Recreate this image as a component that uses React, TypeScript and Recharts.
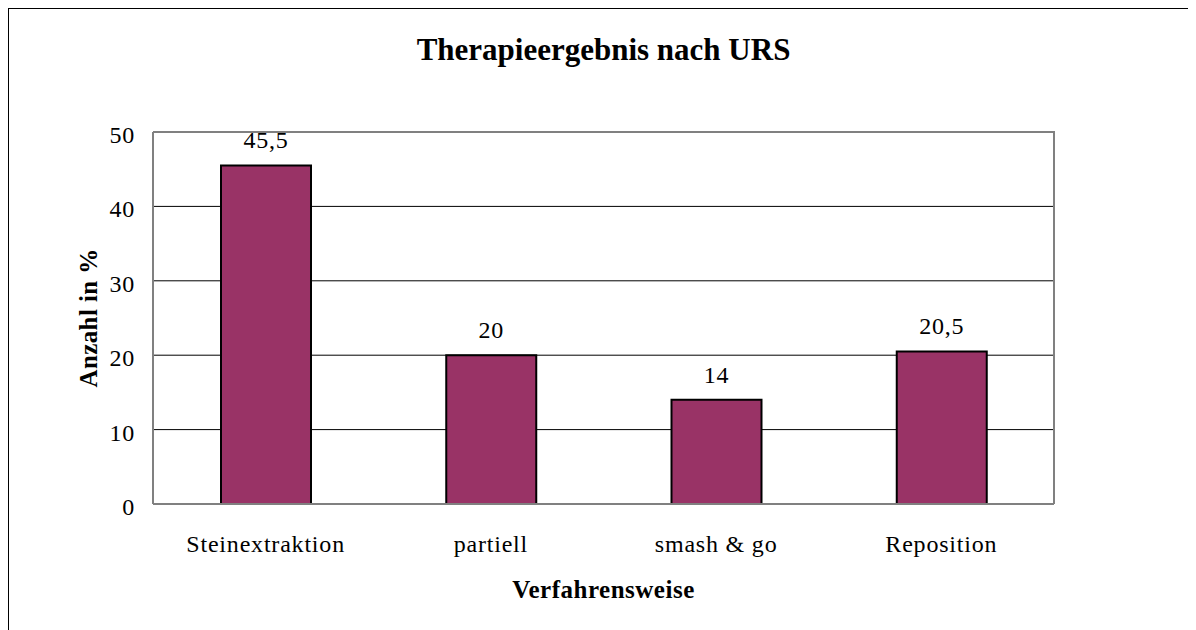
import {
  BarChart,
  Bar,
  XAxis,
  YAxis,
  CartesianGrid,
  LabelList,
  Customized,
} from "recharts";

// Therapieergebnis nach URS (Angaben in %)
const categories = ["Steinextraktion", "partiell", "smash & go", "Reposition"];
const values = [45.5, 20, 14, 20.5];
const yTicks = [0, 10, 20, 30, 40, 50];
const gridValues = [10, 20, 30, 40];

const FONT = '"Liberation Serif", "Times New Roman", serif';
const BAR_COLOR = "#993366";
const FRAME_GRAY = "#808080";

const data = categories.map((name, i) => ({ name, value: values[i] }));

const W = 1179;
const H = 640;
const PLOT = { left: 144, right: 1045, top: 123, bottom: 495 };
const CX = (PLOT.left + PLOT.right) / 2;

// title, axis titles and the grey top/right plot border
function Decorations() {
  const cy = (PLOT.top + PLOT.bottom) / 2;
  const yx = 79;
  return (
    <g fontFamily={FONT} fill="#000">
      <polyline
        points={`${PLOT.left},${PLOT.top} ${PLOT.right},${PLOT.top} ${PLOT.right},${PLOT.bottom}`}
        fill="none"
        stroke={FRAME_GRAY}
        strokeWidth={2}
      />
      <text x={CX} y={51} textAnchor="middle" fontWeight="bold" fontSize={31}>
        Therapieergebnis nach URS
      </text>
      <text
        x={CX}
        y={589}
        textAnchor="middle"
        fontWeight="bold"
        fontSize={25}
        letterSpacing={0.5}
      >
        Verfahrensweise
      </text>
      <text
        x={yx}
        y={cy}
        transform={`rotate(-90, ${yx}, ${cy})`}
        textAnchor="middle"
        dominantBaseline="central"
        fontWeight="bold"
        fontSize={25}
        letterSpacing={0.4}
      >
        Anzahl in %
      </text>
    </g>
  );
}

function XTick({ x, y, payload }: any) {
  return (
    <text
      x={x}
      y={y + 17}
      textAnchor="middle"
      fontFamily={FONT}
      fontSize={24}
      letterSpacing={0.8}
      fill="#000"
    >
      {payload.value}
    </text>
  );
}

function YTick({ x, y, payload }: any) {
  return (
    <text
      x={x}
      y={y + 3}
      textAnchor="end"
      dominantBaseline="central"
      fontFamily={FONT}
      fontSize={24}
      letterSpacing={0.8}
      fill="#000"
    >
      {payload.value}
    </text>
  );
}

function ValueLabel({ x, y, width, value }: any) {
  return (
    <text
      x={x + width / 2}
      y={y - 17}
      textAnchor="middle"
      fontFamily={FONT}
      fontSize={24}
      letterSpacing={0.8}
      fill="#000"
    >
      {String(value).replace(".", ",")}
    </text>
  );
}

export default function App() {
  return (
    <div
      style={{
        width: W,
        height: H,
        border: "1px solid #000",
        background: "#fff",
        fontFamily: FONT,
      }}
    >
      <BarChart
        width={W}
        height={H}
        data={data}
        margin={{ top: PLOT.top, right: W - PLOT.right, bottom: 0, left: 0 }}
      >
        <CartesianGrid
          horizontal
          vertical={false}
          horizontalValues={gridValues}
          stroke="#000"
          strokeWidth={1}
        />
        <XAxis
          dataKey="name"
          height={H - PLOT.bottom}
          tickSize={0}
          tickMargin={31}
          tickLine={false}
          axisLine={{ stroke: FRAME_GRAY, strokeWidth: 2 }}
          tick={<XTick />}
        />
        <YAxis
          width={PLOT.left}
          domain={[0, 50]}
          ticks={yTicks}
          tickSize={0}
          tickMargin={18}
          tickLine={false}
          axisLine={{ stroke: FRAME_GRAY, strokeWidth: 2 }}
          tick={<YTick />}
        />
        <Bar
          dataKey="value"
          fill={BAR_COLOR}
          stroke="#000"
          strokeWidth={2}
          barSize={90}
          isAnimationActive={false}
        >
          <LabelList dataKey="value" content={<ValueLabel />} />
        </Bar>
        <Customized component={<Decorations />} />
      </BarChart>
    </div>
  );
}
